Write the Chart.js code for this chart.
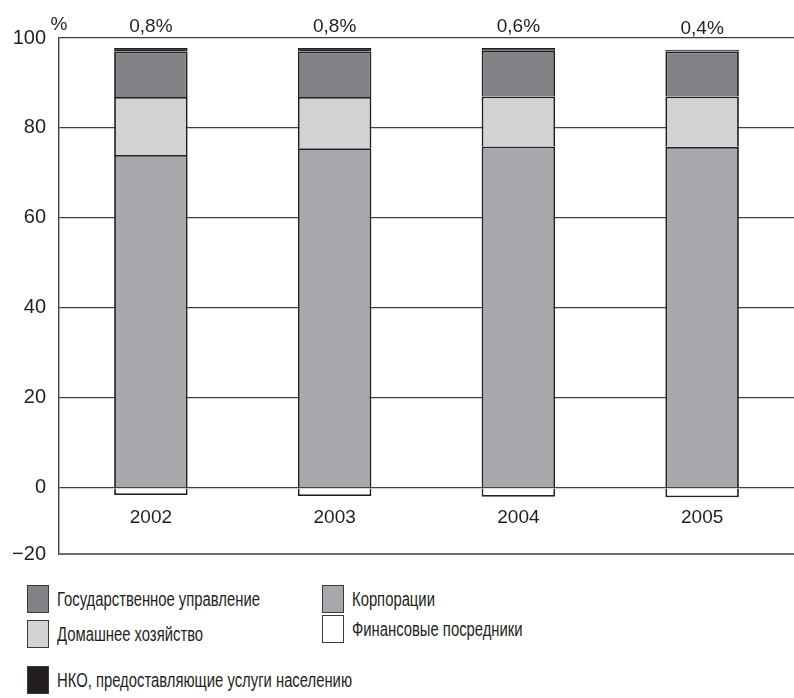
<!DOCTYPE html>
<html>
<head>
<meta charset="utf-8">
<script src="https://cdn.jsdelivr.net/npm/chart.js@4.4.1/dist/chart.umd.min.js"></script>
<style>
  html, body { margin: 0; padding: 0; background: #fff; }
  #wrap { position: relative; width: 794px; height: 698px; }
  #chart-box { position: absolute; left: 0; top: 0; width: 794px; height: 579px; }
  .legend-item { position: absolute; display: flex; align-items: center; font: 19.5px 'Liberation Sans', Arial, sans-serif; color: #231f20; white-space: nowrap; }
  .legend-item i { display: inline-block; width: 22px; height: 28px; box-sizing: border-box; border: 1px solid #3a3a3c; margin-right: 8px; }
  .legend-item span { display: inline-block; transform: scaleX(0.76); transform-origin: left center; }
</style>
</head>
<body>
<div id="wrap">
  <div id="chart-box"><canvas id="chart"></canvas></div>
  <div id="legend"></div>
</div>
<script>
// data
const years = [`2002`, `2003`, `2004`, `2005`];
const corporations = [74.0, 75.5, 75.9, 75.8];
const households = [12.9, 11.4, 11.1, 11.2];
const government = [10.1, 10.1, 10.15, 10.0];
const nko = [0.8, 0.8, 0.6, 0.4];
const financial = [-1.6, -1.8, -2.0, -2.1];

// axis: the bottom of the picture is labelled -20 though it sits higher
const yMin = -14.7;
const yMax = 100;
const yTickValues = [yMin, 0, 20, 40, 60, 80, 100];
const yTickLabels = [`\u221220`, `0`, `20`, `40`, `60`, `80`, `100`];

const INK = `#231f20`;
const FONT = `'Liberation Sans', Arial, sans-serif`;

const series = [
  {label: `Финансовые посредники`, data: financial, color: `#ffffff`},
  {label: `Корпорации`, data: corporations, color: `#a7a8ab`},
  {label: `Домашнее хозяйство`, data: households, color: `#d2d3d5`},
  {label: `Государственное управление`, data: government, color: `#808285`},
  {label: `НКО, предоставляющие услуги населению`, data: nko, color: `#231f20`}
];

// labels drawn inside the plot: years, "%" and the NKO shares on top
const overlayPlugin = {
  id: `overlay`,
  afterDatasetsDraw(chart) {
    const {ctx, chartArea, scales} = chart;
    const x = scales.x;
    const y = scales.y;
    ctx.save();
    ctx.fillStyle = INK;
    ctx.textAlign = `center`;
    ctx.textBaseline = `middle`;
    ctx.font = `19px ${FONT}`;
    years.forEach((year, i) => {
      ctx.fillText(year, x.getPixelForValue(i), y.getPixelForValue(-6.6));
    });
    ctx.fillText(`%`, chartArea.left, chartArea.top - 13);
    nko.forEach((v, i) => {
      const top = corporations[i] + households[i] + government[i] + v;
      ctx.fillText(v.toFixed(1).replace(`.`, `,`) + `%`, x.getPixelForValue(i), y.getPixelForValue(top) - 21);
    });
    ctx.restore();
  }
};

new Chart(document.getElementById(`chart`), {
  type: `bar`,
  data: {
    labels: years,
    datasets: series.map((s) => ({
      label: s.label,
      data: s.data,
      backgroundColor: s.color,
      borderColor: INK,
      borderWidth: 1.8,
      barPercentage: 0.4,
      categoryPercentage: 1
    }))
  },
  options: {
    responsive: true,
    maintainAspectRatio: false,
    animation: false,
    layout: {padding: {top: 38, right: 0, bottom: 7, left: 0}},
    plugins: {legend: {display: false}, tooltip: {enabled: false}},
    scales: {
      x: {
        stacked: true,
        display: false
      },
      y: {
        stacked: true,
        min: yMin,
        max: yMax,
        afterFit(scale) {
          scale.width = 59;
        },
        afterBuildTicks(scale) {
          scale.ticks = yTickValues.map((value) => ({value}));
        },
        ticks: {
          padding: 13,
          color: INK,
          font: {size: 20, family: FONT},
          callback: (value, index) => yTickLabels[index]
        },
        grid: {
          color: (c) => (c.index === 0 ? `#6d6e70` : `#3f3f41`),
          lineWidth: (c) => (c.index === 0 ? 2 : 1.2),
          drawTicks: false
        },
        border: {color: `#3f3f41`, width: 1.4}
      }
    }
  },
  plugins: [overlayPlugin]
});

// legend in the same two-column arrangement as the source
const legendSpots = {
  [`Государственное управление`]: [27, 585],
  [`Корпорации`]: [322, 585],
  [`Домашнее хозяйство`]: [27, 620],
  [`Финансовые посредники`]: [322, 615],
  [`НКО, предоставляющие услуги населению`]: [27, 666]
};
const legend = document.getElementById(`legend`);
series.forEach((s) => {
  const [left, top] = legendSpots[s.label];
  const item = document.createElement(`div`);
  item.className = `legend-item`;
  item.style.left = `${left}px`;
  item.style.top = `${top}px`;
  item.innerHTML = `<i style="background:${s.color}"></i><span>${s.label}</span>`;
  legend.appendChild(item);
});
</script>
</body>
</html>
